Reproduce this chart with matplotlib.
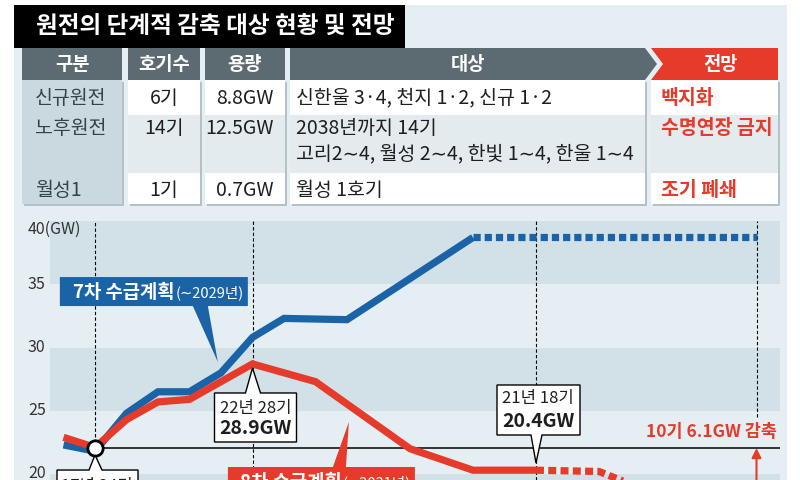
import matplotlib
matplotlib.use("Agg")
import matplotlib.pyplot as plt
from matplotlib.patches import Rectangle, Polygon
from matplotlib.transforms import ScaledTranslation

plt.rcParams["font.family"] = ["Noto Sans CJK KR", "DejaVu Sans"]

DPI = 100
W, H = 800, 480

# ---- table -------------------------------------------------------------
TITLE = "원전의 단계적 감축 대상 현황 및 전망"
HEADERS = ["구분", "호기수", "용량", "대상", "전망"]
CATEGORY = ["신규원전", "노후원전", "월성1"]
UNITS = ["6기", "14기", "1기"]
CAPACITY = ["8.8GW", "12.5GW", "0.7GW"]
TARGETS = [
    ["신한울 3·4, 천지 1·2, 신규 1·2"],
    ["2038년까지 14기", "고리2∼4, 월성 2∼4, 한빛 1∼4, 한울 1∼4"],
    ["월성 1호기"],
]
OUTLOOK = ["백지화", "수명연장 금지", "조기 폐쇄"]

# ---- chart (GW) --------------------------------------------------------
Y_TICKS = [20, 25, 30, 35, 40]
Y_LABELS = ["20", "25", "30", "35", "40(GW)"]

YEARS_7 = [2016, 2017, 2018, 2019, 2020, 2021, 2022, 2023, 2025, 2029]
PLAN_7 = [22.3, 21.8, 24.8, 26.5, 26.5, 28.0, 30.8, 32.3, 32.2, 38.7]
YEARS_7_PROJ = [2029, 2038]
PLAN_7_PROJ = [38.7, 38.7]

YEARS_8 = [2016, 2017, 2018, 2019, 2020, 2021, 2022, 2023, 2024, 2027, 2029, 2031]
PLAN_8 = [22.9, 22.1, 24.3, 25.7, 25.9, 27.3, 28.7, 28.0, 27.3, 22.0, 20.3, 20.3]
YEARS_8_PROJ = [2031, 2033, 2034, 2035, 2036, 2038]
PLAN_8_PROJ = [20.3, 20.2, 19.2, 17.8, 16.9, 16.4]

BASE_YEAR = 2017
BASE_GW = 22.05
CUT_GW = 6.1
GUIDE_YEARS = [2017, 2022, 2031, 2038]

BLUE = "#1b63a7"
RED = "#e63a2b"
PANEL = "#e5eef2"
BAND = "#d2e1e7"
HEADER_GRAY = "#5c6b71"
KEY_CELL = "#c9d9df"
ROW_ALT = "#e3ebee"
SHADOW = "#b4c1c6"
INK = "#1e1e1e"

fig = plt.figure(figsize=(W / DPI, H / DPI), dpi=DPI)

# background / table layer in pixel coordinates
bg = fig.add_axes([0, 0, 1, 1], zorder=0)
bg.set_xlim(0, W)
bg.set_ylim(H, 0)
bg.axis("off")

bg.add_patch(Rectangle((14, 5), 773, 480, fc=PANEL, lw=0))
bg.add_patch(Rectangle((14, 5), 391, 43, fc="black", lw=0))
bg.text(36, 26, TITLE, color="white", fontsize=17, fontweight="bold", va="center")

col_x = [(22, 122), (128, 200), (205, 285), (290, 645), (651, 778)]
row_y = [(80, 115), (115, 173), (173, 204)]
head_top, head_bot = 48, 80

# header cells
for i, (x0, x1) in enumerate(col_x[:3]):
    bg.add_patch(Rectangle((x0, head_top), x1 - x0, head_bot - head_top, fc=HEADER_GRAY, lw=0))
x0, x1 = col_x[3]
mid = (head_top + head_bot) / 2
bg.add_patch(Polygon([(x0, head_top), (x1, head_top), (x1 + 12, mid), (x1, head_bot), (x0, head_bot)],
                     fc=HEADER_GRAY, lw=0))
x0, x1 = col_x[4]
bg.add_patch(Polygon([(x0, head_top), (x1, head_top), (x1, head_bot), (x0, head_bot), (x0 + 12, mid)],
                     fc=RED, lw=0))
for i, (x0, x1) in enumerate(col_x):
    cx = (x0 + x1) / 2 + (6 if i == 4 else 0)
    bg.text(cx, mid, HEADERS[i], color="white", fontsize=13.5, fontweight="bold",
            ha="center", va="center")

# body cells
for c, (x0, x1) in enumerate(col_x):
    bg.add_patch(Rectangle((x0 + 2, row_y[0][0] + 2), x1 - x0, row_y[-1][1] - row_y[0][0],
                           fc=SHADOW, lw=0))
    for r, (y0, y1) in enumerate(row_y):
        fc = KEY_CELL if c == 0 else (ROW_ALT if r == 1 else "white")
        bg.add_patch(Rectangle((x0, y0), x1 - x0, y1 - y0, fc=fc, lw=0))

line_y = [[98], [129, 155], [190]]
body = dict(fontsize=14, fontweight="medium", va="center")
for r in range(3):
    y = line_y[r][0]
    bg.text(35, y, CATEGORY[r], color="#34434a", **body)
    bg.text(164, y, UNITS[r], color=INK, ha="center", **body)
    bg.text(274, y, CAPACITY[r], color=INK, ha="right", **body)
    for k, line in enumerate(TARGETS[r]):
        bg.text(296, line_y[r][k], line, color=INK, **body)
    bg.text(661, y, OUTLOOK[r], color=RED, fontsize=14, fontweight="bold", va="center")

# ---- chart axes --------------------------------------------------------
PX_YEAR = 31.5   # pixels per year
PX_GW = 12.65    # pixels per GW
ax = fig.add_axes([50 / W, 0, 730 / W, (H - 221) / H], zorder=1)
ax.set_xlim(2017 - 45 / PX_YEAR, 2017 + 685 / PX_YEAR)
ax.set_ylim(40 - (H - 221) / PX_GW, 40)
ax.patch.set_alpha(0)
for s in ax.spines.values():
    s.set_visible(False)
ax.set_xticks([])
ax.set_yticks([])

for lo, hi in [(35, 40), (25, 30), (0, 20)]:
    ax.axhspan(lo, hi, color=BAND, lw=0, zorder=0)

ytr = ax.get_yaxis_transform()
for v, lab in zip(Y_TICKS, Y_LABELS):
    ax.text(-22 / 730, v, lab, transform=ytr, fontsize=11.5, color="#333333",
            ha="left", va="top" if v == 40 else "center", clip_on=False)

ymin = ax.get_ylim()[0]
for yr in GUIDE_YEARS:
    lo = BASE_GW if yr == BASE_YEAR else (24.5 if yr == 2038 else ymin)
    ax.vlines(yr, lo, 40, color="black", lw=0.8, linestyles=(0, (3, 2)), zorder=1)

ax.hlines(BASE_GW, BASE_YEAR, ax.get_xlim()[1], color="black", lw=1.1, zorder=2)

line_kw = dict(lw=5.2, solid_joinstyle="miter", solid_capstyle="butt", dash_capstyle="butt")
ax.plot(YEARS_7, PLAN_7, color=BLUE, zorder=3, **line_kw)
ax.plot(YEARS_7_PROJ, PLAN_7_PROJ, color=BLUE, dashes=(1.0, 0.55), zorder=3, **line_kw)
ax.plot(YEARS_8, PLAN_8, color=RED, zorder=4, **line_kw)
ax.plot(YEARS_8_PROJ, PLAN_8_PROJ, color=RED, dashes=(1.1, 0.6), zorder=4, **line_kw)

ax.plot(BASE_YEAR, BASE_GW, "o", ms=11, mfc="white", mec="black", mew=2, zorder=7)

ax.annotate("", xy=(2038, BASE_GW), xytext=(2038, BASE_GW - CUT_GW),
            arrowprops=dict(arrowstyle="-|>", color=RED, lw=1.5, mutation_scale=14,
                            shrinkA=0, shrinkB=0), annotation_clip=False, zorder=5)
ax.annotate(f"10기 {CUT_GW}GW 감축", xy=(2038, BASE_GW), xytext=(20, 16),
            textcoords="offset pixels", ha="right", va="center", color=RED,
            fontsize=12.5, fontweight="bold", annotation_clip=False)


def callout(tip, box, base, face, edge=None):
    """Box with a pointer; offsets in pixels from the tip (y up)."""
    x0, x1, y0, y1 = box
    b0, b1 = base
    if y0 > 0:
        verts = [(x0, y0), (b0, y0), (0, 0), (b1, y0), (x1, y0), (x1, y1), (x0, y1)]
    else:
        verts = [(x0, y1), (b0, y1), (0, 0), (b1, y1), (x1, y1), (x1, y0), (x0, y0)]
    tr = fig.dpi_scale_trans + ScaledTranslation(tip[0], tip[1], ax.transData)
    ax.add_patch(Polygon([(x / DPI, y / DPI) for x, y in verts], closed=True,
                         fc=face, ec=edge or "none", lw=1.0, transform=tr,
                         clip_on=False, zorder=8))

    def put(x, y, s, **kw):
        return ax.text(x / DPI, y / DPI, s, transform=tr, clip_on=False, zorder=9, **kw)
    return put


def suffix(after, s):
    ax.annotate(s, xy=(1, 0.5), xycoords=after, xytext=(1, -1), textcoords="offset pixels",
                color="white", fontsize=10.5, va="center", ha="left",
                annotation_clip=False, zorder=9)


put = callout((2020.9, 28.85), (-158, 30, 56, 85), (-25, -10), BLUE)
t = put(-145, 70, "7차 수급계획", color="white", fontsize=13.5, fontweight="bold", va="center")
suffix(t, "(∼2029년)")

put = callout((2022.0, 28.38), (-38, 44, -74, -25), (-7, 8), "white", "black")
put(3, -41, "22년 28기", color=INK, fontsize=12, ha="center", va="center")
put(3, -61, "28.9GW", color=INK, fontsize=14, fontweight="bold", ha="center", va="center")

put = callout((2031.0, 20.87), (-39, 44, 28, 78), (-5, 6), "white", "black")
put(2, 64, "21년 18기", color=INK, fontsize=12, ha="center", va="center")
put(2, 41, "20.4GW", color=INK, fontsize=14, fontweight="bold", ha="center", va="center")

put = callout((2017.0, 21.5), (-38, 43, -65, -15), (-6, 7), "white", "black")
put(2, -31, "17년 24기", color=INK, fontsize=12, ha="center", va="center")

put = callout((2025.06, 24.11), (-121, 66, -75, -45), (-16, -3), RED)
t = put(-109, -60, "8차 수급계획", color="white", fontsize=13.5, fontweight="bold", va="center")
suffix(t, "(∼2031년)")

fig.savefig("out.png", dpi=DPI, facecolor="white")
